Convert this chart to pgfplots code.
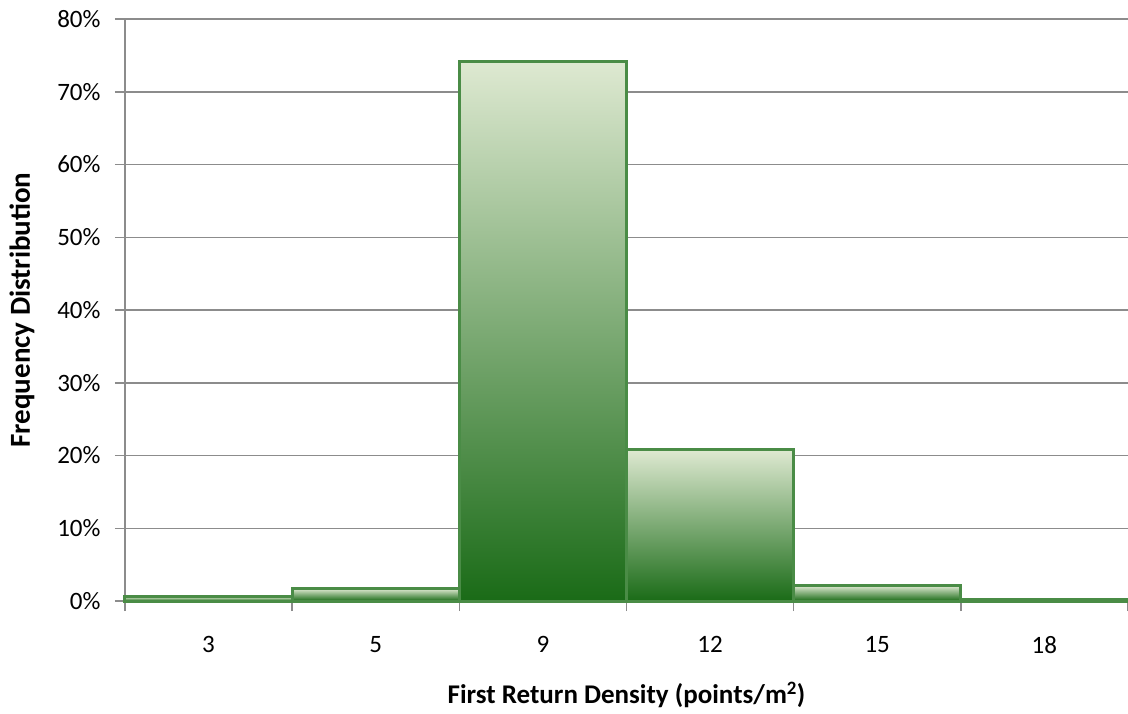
\documentclass[border=0pt]{standalone}
\usepackage{pgfplots}
\pgfplotsset{compat=1.18}
\usepackage{fontspec}
\setmainfont{Carlito}
\definecolor{gridc}{HTML}{8C8C8C}
\definecolor{barline}{HTML}{4A8C46}
\definecolor{ctop}{HTML}{DEE9D1}
\definecolor{cmid}{HTML}{ABBE74}
\definecolor{cbot}{HTML}{1A6B17}
\pgfplotsset{mybar/.style={ybar, bar width=1, bar shift=0pt, draw=barline, line width=3pt,
    top color=ctop, middle color=cmid, bottom color=cbot, mark=none}}
\begin{document}
\begin{tikzpicture}[x=1pt,y=1pt]
\begin{axis}[
  at={(0,0)}, anchor=south west,
  scale only axis,
  width=1003pt, height=582pt,
  xmin=-0.5, xmax=5.5,
  ymin=0, ymax=80,
  axis x line=bottom, axis y line=left,
  axis line style={-, draw=gridc, line width=1.5pt},
  xtick={0,1,2,3,4,5},
  xticklabels={3,5,9,12,15,18},
  minor xtick={-0.5,0.5,1.5,2.5,3.5,4.5,5.5},
  major x tick style={draw=none},
  minor x tick style={draw=gridc, line width=1.5pt},
  minor tick length=10pt,
  ytick={0,10,20,30,40,50,60,70,80},
  yticklabels={0\%,10\%,20\%,30\%,40\%,50\%,60\%,70\%,80\%},
  y tick style={draw=gridc, line width=1.5pt},
  major tick length=10pt,
  tick align=outside,
  ymajorgrids,
  grid style={draw=gridc, line width=1.5pt},
  xticklabel style={font=\fontsize{25}{30}\selectfont, yshift=-22pt},
  yticklabel style={font=\fontsize{25}{30}\selectfont, xshift=-11pt},
  xlabel={\textbf{First Return Density (points/m\textsuperscript{2})}},
  ylabel={\textbf{Frequency Distribution}},
  every axis x label/.style={at={(axis description cs:0.5,0)}, yshift=-94pt, anchor=center, font=\fontsize{27}{32}\selectfont},
  every axis y label/.style={at={(axis description cs:0,0.5)}, xshift=-103pt, rotate=90, anchor=center, font=\fontsize{29}{34}\selectfont},
  clip=false,
]
\addplot[mybar] coordinates {(0,0.6)};
\addplot[mybar] coordinates {(1,1.7)};
\addplot[mybar] coordinates {(2,74.2)};
\addplot[mybar] coordinates {(3,20.8)};
\addplot[mybar] coordinates {(4,2.1)};
\addplot[mybar] coordinates {(5,0.2)};
\end{axis}
\pgfresetboundingbox
\path (-125pt,-112pt) rectangle (1003pt,601pt);
\end{tikzpicture}
\end{document}
